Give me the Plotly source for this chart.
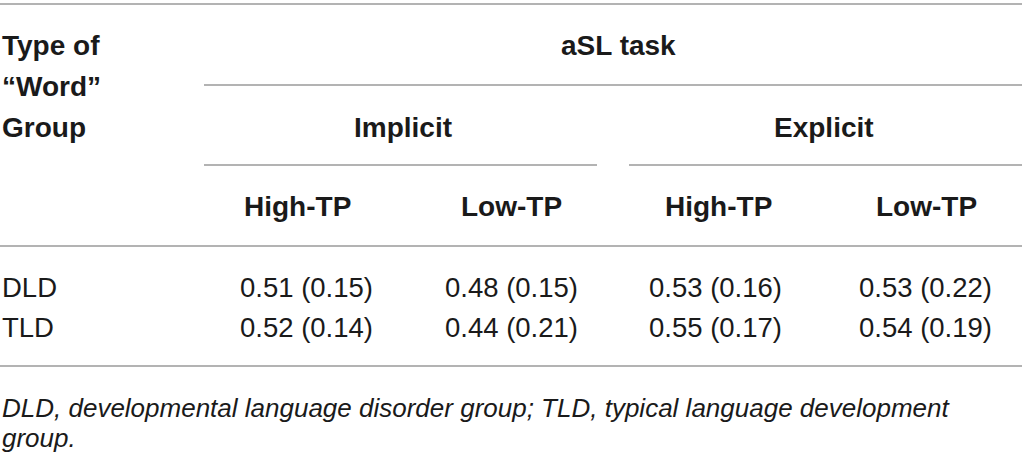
import plotly.graph_objects as go

# ---- data ----
row_labels = ["DLD", "TLD"]
task_label = "aSL task"
conditions = ["Implicit", "Explicit"]
tp_labels = ["High-TP", "Low-TP", "High-TP", "Low-TP"]
dld_values = ["0.51 (0.15)", "0.48 (0.15)", "0.53 (0.16)", "0.53 (0.22)"]
tld_values = ["0.52 (0.14)", "0.44 (0.21)", "0.55 (0.17)", "0.54 (0.19)"]
stub_header = ["Type of", "\u201cWord\u201d", "Group"]
footnote = ["DLD, developmental language disorder group; TLD, typical language development",
            "group."]

# ---- layout ----
W, H = 1022, 454
FONT = "Liberation Sans, Arial, Helvetica, sans-serif"
TXT = "#1a1a1a"
RULE = "#9a9a9a"
hdr_size = 28
body_size = 27.5
note_size = 26

hdr_x = [297, 511, 718, 926]
col_x = [306, 511, 715, 925]
cond_x = [403, 824]
task_x = 618
stub_y = [45, 86, 127]

fig = go.Figure()
fig.add_trace(go.Scatter(x=[0, W], y=[0, H], mode="markers",
                         marker=dict(opacity=0), hoverinfo="skip", showlegend=False))

ann = []
def add(text, x, y, size, bold=False, italic=False, xanchor="center"):
    t = text
    if bold:
        t = "<b>" + t + "</b>"
    if italic:
        t = "<i>" + t + "</i>"
    ann.append(dict(x=x, y=y, xref="x", yref="y", text=t, showarrow=False,
                    xanchor=xanchor, yanchor="middle",
                    font=dict(family=FONT, size=size, color=TXT)))

for s, y in zip(stub_header, stub_y):
    add(s, 0, y, hdr_size, bold=True, xanchor="left")
add(task_label, task_x, 45, hdr_size, bold=True)
for c, x in zip(conditions, cond_x):
    add(c, x, 127, hdr_size, bold=True)
for t, x in zip(tp_labels, hdr_x):
    add(t, x, 206, hdr_size, bold=True)

for r, vals, y in zip(row_labels, [dld_values, tld_values], [287, 327]):
    add(r, 0, y, body_size, xanchor="left")
    for v, x in zip(vals, col_x):
        add(v, x, y, body_size)

for f, y in zip(footnote, [408, 438]):
    add(f, 0, y, note_size, italic=True, xanchor="left")

shapes = []
def rule(x0, x1, y):
    shapes.append(dict(type="line", xref="x", yref="y", x0=x0, x1=x1, y0=y, y1=y,
                       line=dict(color=RULE, width=1.6)))
rule(0, W, 4)
rule(204, W, 85)
rule(204, 597, 165)
rule(629, W, 165)
rule(0, W, 246)
rule(0, W, 366)

fig.update_layout(
    width=W, height=H,
    margin=dict(l=0, r=0, t=0, b=0),
    paper_bgcolor="white", plot_bgcolor="white",
    xaxis=dict(range=[0, W], visible=False, fixedrange=True),
    yaxis=dict(range=[H, 0], visible=False, fixedrange=True),
    annotations=ann, shapes=shapes, showlegend=False,
)

fig.write_html("out.html", config={"displayModeBar": False},
               post_script="document.body.style.margin='0';document.body.style.overflow='hidden';")
